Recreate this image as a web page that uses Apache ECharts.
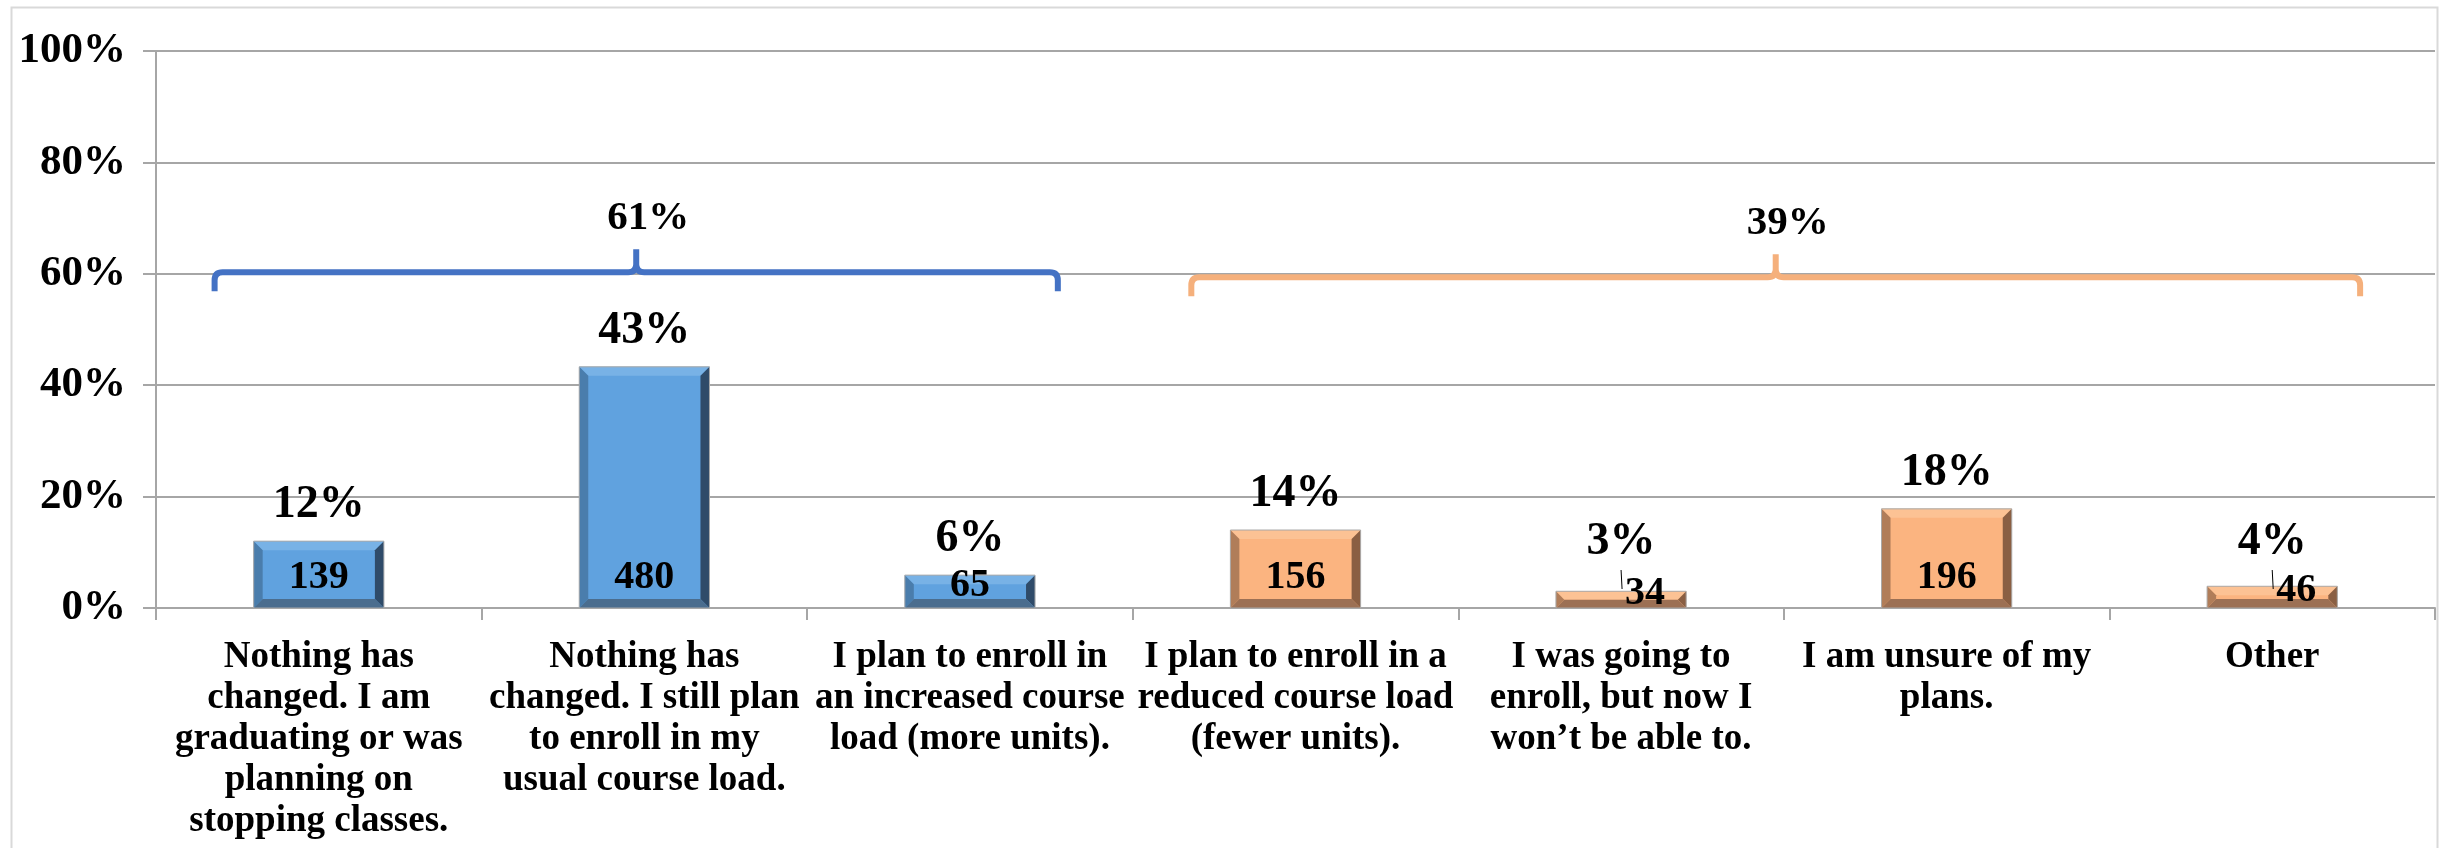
<!DOCTYPE html>
<html>
<head>
<meta charset="utf-8">
<script src="https://cdn.jsdelivr.net/npm/echarts@6/dist/echarts.min.js"></script>
<style>
  html, body { margin: 0; padding: 0; background: #fff; }
  #chart { width: 2443px; height: 848px; }
</style>
</head>
<body>
<div id="chart"></div>
<script>
// categories (line breaks as in the original labels)
const categories = [
  'Nothing has\nchanged. I am\ngraduating or was\nplanning on\nstopping classes.',
  'Nothing has\nchanged. I still plan\nto enroll in my\nusual course load.',
  'I plan to enroll in\nan increased course\nload (more units).',
  'I plan to enroll in a\nreduced course load\n(fewer units).',
  'I was going to\nenroll, but now I\nwon\u2019t be able to.',
  'I am unsure of my\nplans.',
  'Other'
]
const pctValues = [12.0, 43.3, 5.9, 14.0, 3.0, 17.8, 3.9]
const pctLabels = ['12%', '43%', '6%', '14%', '3%', '18%', '4%']
const counts = [139, 480, 65, 156, 34, 196, 46]
const groupOf = [0, 0, 0, 1, 1, 1, 1]

// brackets over the two groups
const braceFrom = [0, 3]
const braceTo = [2, 6]
const braceLevel = [60.3, 59.4]
const braceLabels = ['61%', '39%']

const yTicks = [0, 20, 40, 60, 80, 100]

const FONT = '"Liberation Serif", "Times New Roman", serif'
const palettes = [
  { face: '#60A2DF', top: '#78B2E6', left: '#4A7DAC', right: '#2F4B69', bottom: '#4B6D8E', brace: '#4472C4' },
  { face: '#FBB480', top: '#FCC294', left: '#B07D59', right: '#8A5F43', bottom: '#9C7054', brace: '#F5B07C' }
]

function renderBar(params, api) {
  const idx = api.value(0)
  const v = api.value(1)
  const top = api.coord([idx, v])
  const base = api.coord([idx, 0])
  const w = api.size([1, 0])[0] * 0.4
  const cx = top[0]
  const x0 = cx - w / 2, x1 = cx + w / 2
  const y0 = top[1], y1 = base[1]
  const h = y1 - y0
  const b = Math.min(9, h / 2)
  const pal = palettes[groupOf[params.dataIndex]]
  const small = h < 25
  const countY = y1 - Math.min(h / 2 + 6, 30)
  const countX = small ? cx + 24 : cx
  const pctY = Math.min(y0 - 36, y1 - 66)
  const children = [
    { type: 'rect', shape: { x: x0, y: y0, width: w, height: h }, style: { fill: pal.face } },
    { type: 'polygon', shape: { points: [[x0, y0], [x1, y0], [x1 - b, y0 + b], [x0 + b, y0 + b]] }, style: { fill: pal.top } },
    { type: 'polygon', shape: { points: [[x0, y0], [x0 + b, y0 + b], [x0 + b, y1 - b], [x0, y1]] }, style: { fill: pal.left } },
    { type: 'polygon', shape: { points: [[x1, y0], [x1, y1], [x1 - b, y1 - b], [x1 - b, y0 + b]] }, style: { fill: pal.right } },
    { type: 'polygon', shape: { points: [[x0, y1], [x0 + b, y1 - b], [x1 - b, y1 - b], [x1, y1]] }, style: { fill: pal.bottom } },
    { type: 'rect', shape: { x: x0, y: y0, width: w, height: h }, style: { fill: 'none', stroke: '#A9A9A9', lineWidth: 1 } },
    {
      type: 'text', z2: 10,
      style: {
        text: String(counts[params.dataIndex]), x: countX, y: countY,
        align: 'center', verticalAlign: 'middle',
        fontFamily: FONT, fontWeight: 'bold', fontSize: 40, fill: '#000'
      }
    },
    {
      type: 'text', z2: 10,
      style: {
        text: pctLabels[params.dataIndex], x: cx, y: pctY,
        align: 'center', verticalAlign: 'middle',
        fontFamily: FONT, fontWeight: 'bold', fontSize: 46, fill: '#000'
      }
    }
  ]
  if (small) {
    // leader line of the shifted count label
    children.push({
      type: 'line', z2: 10,
      shape: { x1: cx, y1: y1 - 38, x2: cx + 1, y2: y1 - 19 },
      style: { stroke: '#000', lineWidth: 1 }
    })
  }
  return { type: 'group', children }
}

function renderBrace(params, api) {
  const bw = api.size([1, 0])[0]
  const lvl = api.value(2)
  const pL = api.coord([api.value(0), lvl])
  const pR = api.coord([api.value(1), lvl])
  const xL = pL[0] - 0.32 * bw, xR = pR[0] + 0.27 * bw
  const y = pL[1]
  const xc = (xL + xR) / 2
  const drop = 19, tick = 23, r = 8
  const color = palettes[params.dataIndex].brace
  const d = [
    'M', xL, y + drop, 'L', xL, y + r, 'Q', xL, y, xL + r, y,
    'L', xc - r, y, 'Q', xc, y, xc, y - r, 'L', xc, y - tick,
    'M', xR, y + drop, 'L', xR, y + r, 'Q', xR, y, xR - r, y,
    'L', xc + r, y, 'Q', xc, y, xc, y - r
  ].join(' ')
  return {
    type: 'group',
    children: [
      { type: 'path', shape: { pathData: d }, style: { fill: 'none', stroke: color, lineWidth: 6 } },
      {
        type: 'text',
        style: {
          text: braceLabels[params.dataIndex], x: xc + 12, y: y - 54,
          align: 'center', verticalAlign: 'middle',
          fontFamily: FONT, fontWeight: 'bold', fontSize: 41, fill: '#000'
        }
      }
    ]
  }
}

const chart = echarts.init(document.getElementById('chart'))
const option = {
  animation: false,
  backgroundColor: '#fff',
  graphic: [{
    type: 'rect', left: 9, top: 5, shape: { width: 2426, height: 860 },
    style: { fill: 'none', stroke: '#D9D9D9', lineWidth: 2 }, silent: true
  }],
  grid: { left: 156, right: 8, top: 51, bottom: 240, containLabel: false },
  xAxis: {
    type: 'category',
    data: categories,
    axisLine: { show: true, lineStyle: { color: '#A6A6A6', width: 2 } },
    axisTick: { show: true, length: 12, alignWithLabel: false, lineStyle: { color: '#A6A6A6', width: 2 } },
    axisLabel: {
      interval: 0, margin: 29,
      fontFamily: FONT, fontWeight: 'bold', fontSize: 37, lineHeight: 41, color: '#000'
    }
  },
  yAxis: {
    type: 'value',
    min: yTicks[0], max: yTicks[yTicks.length - 1], interval: 20,
    axisLine: { show: true, lineStyle: { color: '#A6A6A6', width: 2 } },
    axisTick: { show: true, length: 13, lineStyle: { color: '#A6A6A6', width: 2 } },
    splitLine: { show: true, lineStyle: { color: '#A6A6A6', width: 2 } },
    axisLabel: {
      formatter: '{value}%', margin: 30,
      fontFamily: FONT, fontWeight: 'bold', fontSize: 43, color: '#000'
    }
  },
  series: [
    {
      type: 'custom',
      renderItem: renderBar,
      encode: { x: 0, y: 1 },
      data: categories.map((c, i) => [i, pctValues[i]]),
      z: 3
    },
    {
      type: 'custom',
      renderItem: renderBrace,
      encode: { x: [0, 1], y: 2 },
      data: braceFrom.map((f, i) => [f, braceTo[i], braceLevel[i]]),
      z: 4
    }
  ]
}
chart.setOption(option)
</script>
</body>
</html>
